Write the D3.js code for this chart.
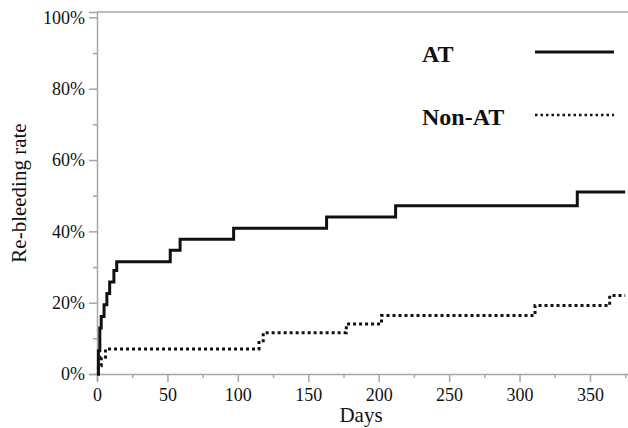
<!DOCTYPE html>
<html>
<head>
<meta charset="utf-8">
<script src="https://cdn.jsdelivr.net/npm/d3@7"></script>
<style>
  body { margin: 0; background: #fff; }
  svg text { font-family: "Liberation Serif", "Times New Roman", serif; fill: #111; }
</style>
</head>
<body>
<div id="chartArea"></div>
<script>
// Kaplan-Meier style cumulative re-bleeding curves
const atDays = [0, 1, 2, 3, 5, 7, 9, 12, 14, 52, 59, 97, 163, 212, 341];
const atRates = [0, 6.5, 12.9, 16.1, 19.4, 22.6, 25.8, 29.0, 31.5, 34.7, 37.8, 40.9, 44.0, 47.2, 51.0];
const nonAtDays = [0, 1, 3, 6, 115, 118, 177, 202, 311, 364];
const nonAtRates = [0, 2.3, 4.7, 7.0, 9.3, 11.6, 14.0, 16.4, 19.2, 22.0];
const followUpEnd = 375;

const xTicks = [0, 50, 100, 150, 200, 250, 300, 350];
const xMinorTicks = [25, 75, 125, 175, 225, 275, 325, 375];
const yTicks = [0, 20, 40, 60, 80, 100];
const yMinorTicks = [10, 30, 50, 70, 90];
const seriesNames = ["AT", "Non-AT"];

const width = 628;
const height = 428;
const serif = '"Liberation Serif", "Times New Roman", serif';

const svg = d3.select("#chartArea")
  .append("svg")
  .attr("width", width)
  .attr("height", height);

const xScale = d3.scaleLinear().domain([0, 377]).range([97, 628]);
const yScale = d3.scaleLinear().domain([0, 101.5]).range([374, 12]);

const axisColor = "#a6a6a6";

// frame top line
svg.append("line")
  .attr("x1", xScale(0)).attr("x2", xScale(377))
  .attr("y1", yScale(101.5)).attr("y2", yScale(101.5))
  .attr("stroke", axisColor).attr("stroke-width", 1.5);

// Y axis (major + minor)
svg.append("g")
  .attr("transform", `translate(${xScale(0)},0)`)
  .call(d3.axisLeft(yScale).tickValues(yTicks).tickSize(8).tickPadding(4)
    .tickFormat((d) => d + "%"));
svg.append("g")
  .attr("transform", `translate(${xScale(0)},0)`)
  .call(d3.axisLeft(yScale).tickValues(yMinorTicks).tickSize(4).tickFormat(""))
  .select(".domain").remove();

// X axis (major + minor)
svg.append("g")
  .attr("transform", `translate(0,${yScale(0)})`)
  .call(d3.axisBottom(xScale).tickValues(xTicks).tickSize(8).tickPadding(6));
svg.append("g")
  .attr("transform", `translate(0,${yScale(0)})`)
  .call(d3.axisBottom(xScale).tickValues(xMinorTicks).tickSize(4).tickFormat(""))
  .select(".domain").remove();

svg.selectAll("g").attr("font-family", serif).attr("font-size", 18);
svg.selectAll(".domain").attr("stroke", axisColor).attr("stroke-width", 1.5);
svg.selectAll(".tick line").attr("stroke", axisColor).attr("stroke-width", 1.5);
svg.selectAll(".tick text").attr("fill", "#111");

// axis titles
svg.append("text")
  .attr("x", 361).attr("y", 422)
  .attr("text-anchor", "middle")
  .style("font-size", "21px")
  .text("Days");

svg.append("text")
  .attr("transform", "translate(26,193) rotate(-90)")
  .attr("text-anchor", "middle")
  .style("font-size", "21px")
  .text("Re-bleeding rate");

// step curves
const line = d3.line()
  .x((d) => xScale(d[0]))
  .y((d) => yScale(d[1]))
  .curve(d3.curveStepAfter);

const atPoints = atDays.map((d, i) => [d, atRates[i]]);
atPoints.push([followUpEnd, atRates[atRates.length - 1]]);
const nonAtPoints = nonAtDays.map((d, i) => [d, nonAtRates[i]]);
nonAtPoints.push([followUpEnd, nonAtRates[nonAtRates.length - 1]]);

svg.append("path")
  .datum(nonAtPoints)
  .attr("d", line)
  .attr("fill", "none")
  .attr("stroke", "#111")
  .attr("stroke-width", 3)
  .attr("stroke-dasharray", "3,3");

svg.append("path")
  .datum(atPoints)
  .attr("d", line)
  .attr("fill", "none")
  .attr("stroke", "#111")
  .attr("stroke-width", 3);

// legend
const legend = svg.append("g");
const legendY = [52, 115];
seriesNames.forEach((name, i) => {
  legend.append("text")
    .attr("x", 422)
    .attr("y", legendY[i] + 10)
    .style("font-size", "24px")
    .style("font-weight", "bold")
    .text(name);
  legend.append("line")
    .attr("x1", 535).attr("x2", 614)
    .attr("y1", legendY[i]).attr("y2", legendY[i])
    .attr("stroke", "#111")
    .attr("stroke-width", i === 0 ? 3 : 2.5)
    .attr("stroke-dasharray", i === 0 ? null : "2.5,3");
});
</script>
</body>
</html>
